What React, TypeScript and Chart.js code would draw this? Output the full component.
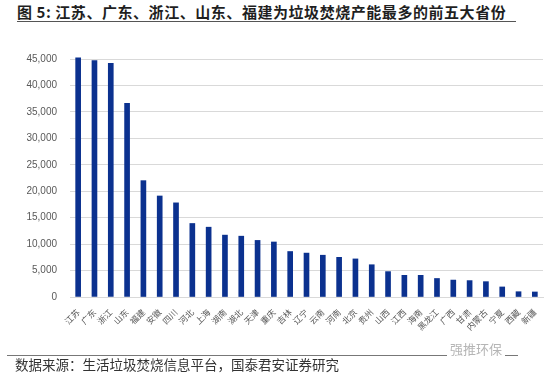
import React, { useEffect, useRef } from "react";
import { Chart, registerables } from "chart.js";

Chart.register(...registerables);

const provinces = [
  "江苏", "广东", "浙江", "山东", "福建", "安徽", "四川", "河北", "上海", "湖南",
  "湖北", "天津", "重庆", "吉林", "辽宁", "云南", "河南", "北京", "贵州", "山西",
  "江西", "海南", "黑龙江", "广西", "甘肃", "内蒙古", "宁夏", "西藏", "新疆",
];

const capacity = [
  45200, 44700, 44200, 36600, 22000, 19100, 17800, 13900, 13200, 11700,
  11500, 10700, 10400, 8600, 8300, 7900, 7500, 7200, 6100, 4800,
  4100, 4100, 3500, 3200, 3100, 2900, 1900, 1000, 950,
];

const yTicks = [0, 5000, 10000, 15000, 20000, 25000, 30000, 35000, 40000, 45000];

const titleText = "图 5: 江苏、广东、浙江、山东、福建为垃圾焚烧产能最多的前五大省份";
const sourceText = "数据来源：生活垃圾焚烧信息平台，国泰君安证券研究";
const watermarkText = "强推环保";

const CJK = '"Noto Sans CJK SC", "Liberation Sans", sans-serif';

export default function App() {
  const canvasRef = useRef<HTMLCanvasElement | null>(null);

  useEffect(() => {
    if (!canvasRef.current) return;
    const chart = new Chart(canvasRef.current, {
      type: "bar",
      data: {
        labels: provinces,
        datasets: [
          {
            data: capacity,
            backgroundColor: "#0b318f",
            borderWidth: 0,
            barThickness: 5,
            clip: false as any,
          },
        ],
      },
      options: {
        responsive: false,
        animation: false,
        layout: { padding: { top: 18, right: 9, left: 0, bottom: 0 } },
        plugins: { legend: { display: false }, tooltip: { enabled: false } },
        scales: {
          x: {
            grid: { display: false },
            border: { display: true, color: "#d9d9d9" },
            ticks: {
              minRotation: 45,
              maxRotation: 45,
              autoSkip: false,
              padding: 2,
              color: "#595959",
              font: { family: CJK, size: 8.5 },
            },
            afterFit: (scale: any) => {
              scale.height = 43;
            },
          },
          y: {
            min: 0,
            max: 45000,
            afterBuildTicks: (scale: any) => {
              scale.ticks = yTicks.map((v) => ({ value: v }));
            },
            grid: { color: "#d9d9d9", drawTicks: false },
            border: { display: false },
            ticks: {
              padding: 13,
              color: "#595959",
              font: { family: '"Liberation Sans", Arial, sans-serif', size: 10 },
              callback: (v: any) => Number(v).toLocaleString("en-US"),
            },
            afterFit: (scale: any) => {
              scale.width = 70;
            },
          },
        },
      },
    });
    return () => chart.destroy();
  }, []);

  return (
    <div
      style={{
        position: "fixed",
        left: 0,
        top: 0,
        width: 552,
        height: 379,
        background: "#fff",
        overflow: "hidden",
      }}
    >
      <div
        style={{
          position: "absolute",
          left: 17,
          top: 2,
          fontFamily: CJK,
          fontWeight: 700,
          fontSize: 15,
          letterSpacing: "0.55px",
          lineHeight: "20px",
          color: "#1f1f1f",
          whiteSpace: "nowrap",
        }}
      >
        {titleText}
      </div>
      <div
        style={{
          position: "absolute",
          left: 17,
          top: 21,
          width: 499,
          height: 1,
          background: "#555",
        }}
      />
      <canvas
        ref={canvasRef}
        width={552}
        height={300}
        style={{ position: "absolute", left: 0, top: 40, width: 552, height: 300 }}
      />
      <div
        style={{
          position: "absolute",
          left: 7,
          top: 355,
          width: 511,
          height: 1,
          background: "#777",
        }}
      />
      <div
        style={{
          position: "absolute",
          left: 447,
          top: 341,
          padding: "0 3px",
          background: "#fff",
          fontFamily: CJK,
          fontSize: 13,
          lineHeight: "16px",
          color: "#b5b5b5",
          whiteSpace: "nowrap",
        }}
      >
        {watermarkText}
      </div>
      <div
        style={{
          position: "absolute",
          left: 15,
          top: 355,
          fontFamily: CJK,
          fontSize: 13.5,
          lineHeight: "18px",
          color: "#333",
          whiteSpace: "nowrap",
        }}
      >
        {sourceText}
      </div>
    </div>
  );
}
